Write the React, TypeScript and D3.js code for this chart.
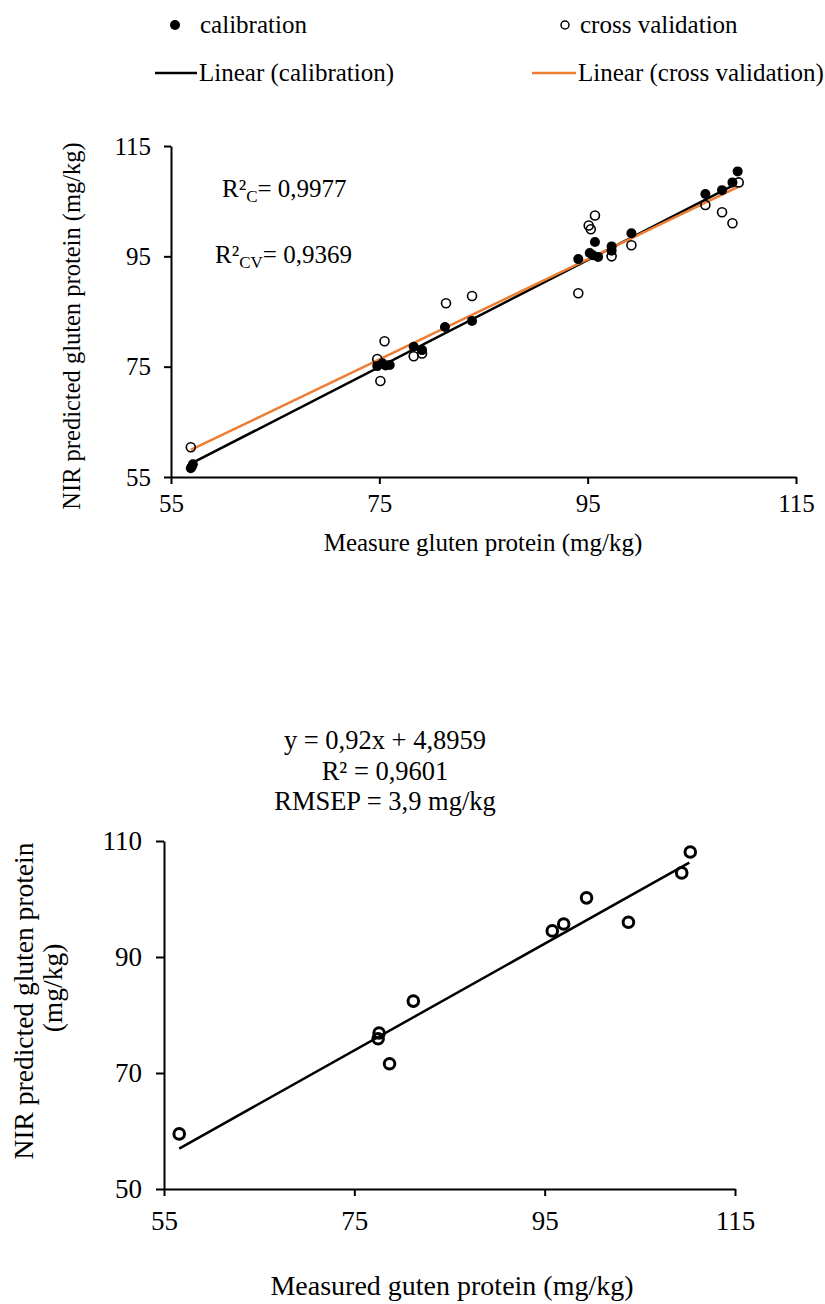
import React, { useRef, useEffect } from 'react';
import * as d3 from 'd3';

// calibration set (filled dots)
const calMeasured = [56.9, 57.1, 57.0, 74.8, 75.3, 75.6, 76.0, 78.3, 79.1, 81.3, 83.9, 94.1, 95.2, 95.7, 96.0, 95.5, 97.3, 97.3, 99.2, 106.3, 107.9, 108.9, 109.4];
const calPredicted = [56.6, 57.3, 56.9, 75.1, 75.6, 75.2, 75.3, 78.6, 78.0, 82.2, 83.3, 94.5, 95.6, 97.6, 94.9, 95.2, 96.8, 96.0, 99.2, 106.3, 107.0, 108.4, 110.4];

// cross validation set (open circles)
const cvMeasured = [56.9, 74.8, 75.5, 75.1, 78.3, 79.1, 81.4, 83.9, 94.1, 95.1, 95.3, 95.7, 97.3, 99.2, 106.3, 107.9, 108.9, 109.5];
const cvPredicted = [60.4, 76.4, 79.6, 72.4, 76.9, 77.4, 86.5, 87.8, 88.3, 100.6, 99.9, 102.4, 95.0, 97.0, 104.3, 103.0, 101.0, 108.4];

// trend lines: [slope, intercept, xStart, xEnd]
const calTrend = [0.969, 2.27, 57.0, 109.3];
const cvTrend = [0.907, 8.3, 56.9, 109.4];

// external validation set
const valMeasured = [56.6, 77.6, 77.5, 78.7, 81.2, 95.8, 97.0, 99.4, 103.8, 109.4, 110.3];
const valPredicted = [59.5, 76.9, 75.9, 71.6, 82.4, 94.5, 95.7, 100.2, 96.0, 104.5, 108.1];
const valTrend = [0.92, 4.8959, 56.6, 110.2];

const topTicks = [55, 75, 95, 115];
const bottomXTicks = [55, 75, 95, 115];
const bottomYTicks = [50, 70, 90, 110];

const FONT = '"Liberation Serif", "Times New Roman", serif';
const ORANGE = '#ED7D31';

const App = () => {
  const svgRef = useRef<SVGSVGElement>(null);

  useEffect(() => {
    const svg = d3.select(svgRef.current);
    svg.selectAll('*').remove();

    const styleAxis = (size: number) => (g: any) => {
      g.select('.domain').attr('stroke', '#000').attr('stroke-width', 2);
      g.selectAll('.tick line').attr('stroke', '#000').attr('stroke-width', 2);
      g.selectAll('.tick text')
        .attr('fill', '#000')
        .attr('font-family', FONT)
        .attr('font-size', size);
    };

    const trendLine = (g: any, x: any, y: any, t: number[], color: string, w: number) => {
      const pts: [number, number][] = [t[2], t[3]].map(v => [v, t[0] * v + t[1]]);
      g.append('path')
        .attr('d', d3.line().x(d => x(d[0])).y(d => y(d[1]))(pts))
        .attr('fill', 'none')
        .attr('stroke', color)
        .attr('stroke-width', w);
    };

    const label = (x: number, y: number, size: number, s: string, rotate = false) =>
      svg.append('text')
        .attr('transform', rotate ? 'rotate(-90)' : null)
        .attr('x', rotate ? -y : x)
        .attr('y', rotate ? x : y)
        .attr('text-anchor', 'middle')
        .attr('font-family', FONT)
        .attr('font-size', size)
        .attr('fill', '#000')
        .text(s);

    // ---------- top chart ----------
    const x1 = d3.scaleLinear().domain([55, 115]).range([171, 796]);
    const y1 = d3.scaleLinear().domain([55, 115]).range([477, 146]);

    svg.append('g')
      .attr('transform', 'translate(0,477)')
      .call(d3.axisBottom(x1).tickValues(topTicks).tickSize(7).tickSizeOuter(0).tickPadding(10))
      .call(styleAxis(25));
    svg.append('g')
      .attr('transform', 'translate(171,0)')
      .call(d3.axisLeft(y1).tickValues(topTicks).tickSize(7).tickSizeOuter(0).tickPadding(13))
      .call(styleAxis(25));

    const top = svg.append('g');
    trendLine(top, x1, y1, calTrend, '#000', 2.5);
    trendLine(top, x1, y1, cvTrend, ORANGE, 2.5);

    top.selectAll('.cal')
      .data(calMeasured)
      .enter()
      .append('circle')
      .attr('cx', d => x1(d))
      .attr('cy', (d, i) => y1(calPredicted[i]))
      .attr('r', 5)
      .attr('fill', '#000');

    top.selectAll('.cv')
      .data(cvMeasured)
      .enter()
      .append('circle')
      .attr('cx', d => x1(d))
      .attr('cy', (d, i) => y1(cvPredicted[i]))
      .attr('r', 4.5)
      .attr('fill', 'none')
      .attr('stroke', '#000')
      .attr('stroke-width', 1.6);

    // R² annotations
    const r2 = (xPos: number, yPos: number, sub: string, val: string) => {
      const t = svg.append('text')
        .attr('x', xPos)
        .attr('y', yPos)
        .attr('font-family', FONT)
        .attr('font-size', 25)
        .attr('fill', '#000');
      t.append('tspan').text('R²');
      t.append('tspan').attr('font-size', 17).attr('dy', 5).text(sub);
      t.append('tspan').attr('dy', -5).text('= ' + val);
    };
    r2(222, 197, 'C', '0,9977');
    r2(215, 263, 'CV', '0,9369');

    label(483, 551, 25, 'Measure gluten protein (mg/kg)');
    label(80, 326, 24.5, 'NIR predicted gluten protein (mg/kg)', true);

    // legend
    const legend = svg.append('g').attr('font-family', FONT).attr('font-size', 25);
    legend.append('circle').attr('cx', 175).attr('cy', 25).attr('r', 5).attr('fill', '#000');
    legend.append('text').attr('x', 200).attr('y', 33).text('calibration');
    legend.append('circle').attr('cx', 565).attr('cy', 25).attr('r', 4).attr('fill', 'none').attr('stroke', '#000').attr('stroke-width', 1.5);
    legend.append('text').attr('x', 580).attr('y', 33).text('cross validation');
    legend.append('line').attr('x1', 155).attr('x2', 197).attr('y1', 73).attr('y2', 73).attr('stroke', '#000').attr('stroke-width', 2.5);
    legend.append('text').attr('x', 199).attr('y', 81).text('Linear (calibration)');
    legend.append('line').attr('x1', 532).attr('x2', 576).attr('y1', 73).attr('y2', 73).attr('stroke', ORANGE).attr('stroke-width', 2.5);
    legend.append('text').attr('x', 578).attr('y', 81).text('Linear (cross validation)');

    // ---------- bottom chart ----------
    const x2 = d3.scaleLinear().domain([55, 115]).range([164, 735]);
    const y2 = d3.scaleLinear().domain([50, 110]).range([1189, 841]);

    svg.append('g')
      .attr('transform', 'translate(0,1189)')
      .call(d3.axisBottom(x2).tickValues(bottomXTicks).tickSize(7).tickSizeOuter(0).tickPadding(15))
      .call(styleAxis(27));
    svg.append('g')
      .attr('transform', 'translate(164,0)')
      .call(d3.axisLeft(y2).tickValues(bottomYTicks).tickSize(8).tickSizeOuter(0).tickPadding(14))
      .call(styleAxis(27));

    const bottom = svg.append('g');
    trendLine(bottom, x2, y2, valTrend, '#000', 2.5);

    bottom.selectAll('.val')
      .data(valMeasured)
      .enter()
      .append('circle')
      .attr('cx', d => x2(d))
      .attr('cy', (d, i) => y2(valPredicted[i]))
      .attr('r', 5.3)
      .attr('fill', 'none')
      .attr('stroke', '#000')
      .attr('stroke-width', 3);

    const eq = ['y = 0,92x + 4,8959', 'R² = 0,9601', 'RMSEP = 3,9 mg/kg'];
    eq.forEach((s, i) => label(385, 749 + i * 30.5, 26.5, s));

    label(452, 1295, 28, 'Measured guten protein (mg/kg)');
    label(33, 1001, 27.5, 'NIR predicted gluten protein', true);
    label(62, 988, 27.5, '(mg/kg)', true);
  }, []);

  return (
    <svg
      ref={svgRef}
      width={825}
      height={1304}
      style={{ position: 'absolute', left: 0, top: 0, background: '#fff' }}
    />
  );
};

export default App;
